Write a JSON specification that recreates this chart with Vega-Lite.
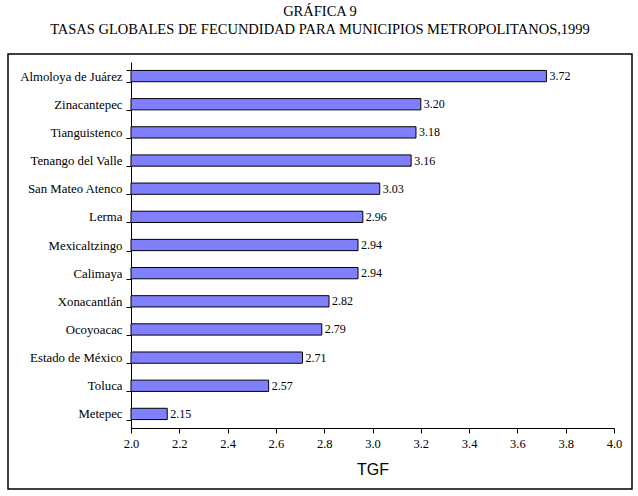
{
  "$schema": "https://vega.github.io/schema/vega-lite/v6.json",
  "autosize": "none",
  "width": 624,
  "height": 435,
  "padding": {"left": 8, "top": 54, "right": 6, "bottom": 7},
  "background": "white",
  "title": {
    "text": ["GRÁFICA 9", "TASAS GLOBALES DE FECUNDIDAD PARA MUNICIPIOS METROPOLITANOS,1999"],
    "font": "Liberation Serif",
    "fontSize": 14.5,
    "fontWeight": "normal",
    "color": "black",
    "anchor": "middle",
    "frame": "group",
    "lineHeight": 18,
    "offset": 11
  },
  "data": {
    "values": [
      {"municipio": "Almoloya de Juárez", "tgf": 3.72},
      {"municipio": "Zinacantepec", "tgf": 3.20},
      {"municipio": "Tianguistenco", "tgf": 3.18},
      {"municipio": "Tenango del Valle", "tgf": 3.16},
      {"municipio": "San Mateo Atenco", "tgf": 3.03},
      {"municipio": "Lerma", "tgf": 2.96},
      {"municipio": "Mexicaltzingo", "tgf": 2.94},
      {"municipio": "Calimaya", "tgf": 2.94},
      {"municipio": "Xonacantlán", "tgf": 2.82},
      {"municipio": "Ocoyoacac", "tgf": 2.79},
      {"municipio": "Estado de México", "tgf": 2.71},
      {"municipio": "Toluca", "tgf": 2.57},
      {"municipio": "Metepec", "tgf": 2.15}
    ]
  },
  "encoding": {
    "y": {
      "field": "municipio",
      "type": "nominal",
      "sort": null,
      "scale": {"range": [8, 374], "paddingInner": 0.6, "paddingOuter": 0.3},
      "axis": {
        "title": null,
        "offset": -123,
        "tickBand": "extent",
        "tickSize": 5,
        "labelPadding": 4,
        "labelFontSize": 12.8,
        "grid": false
      }
    },
    "x": {
      "field": "tgf",
      "type": "quantitative",
      "scale": {"domain": [2, 4], "range": [123, 606], "zero": false, "nice": false},
      "axis": {
        "title": "TGF",
        "values": [2.0, 2.2, 2.4, 2.6, 2.8, 3.0, 3.2, 3.4, 3.6, 3.8, 4.0],
        "format": ".1f",
        "offset": -61,
        "tickSize": 5,
        "labelPadding": 4,
        "labelFontSize": 12.5,
        "labelFlush": false,
        "titleFont": "Liberation Sans",
        "titleFontSize": 16,
        "titleFontWeight": "normal",
        "titleColor": "black",
        "titlePadding": 12,
        "grid": false
      }
    }
  },
  "layer": [
    {
      "mark": {"type": "bar", "fill": "#8080ff", "stroke": "black", "strokeWidth": 1},
      "encoding": {"x2": {"datum": 2}}
    },
    {
      "mark": {"type": "text", "align": "left", "baseline": "middle", "dx": 3, "font": "Liberation Serif", "fontSize": 12, "color": "black"},
      "encoding": {"text": {"field": "tgf", "type": "quantitative", "format": ".2f"}}
    }
  ],
  "config": {
    "view": {"stroke": "black", "strokeWidth": 1.5, "fill": "white"},
    "axis": {
      "labelFont": "Liberation Serif",
      "labelColor": "black",
      "tickColor": "black",
      "domainColor": "black"
    }
  }
}
